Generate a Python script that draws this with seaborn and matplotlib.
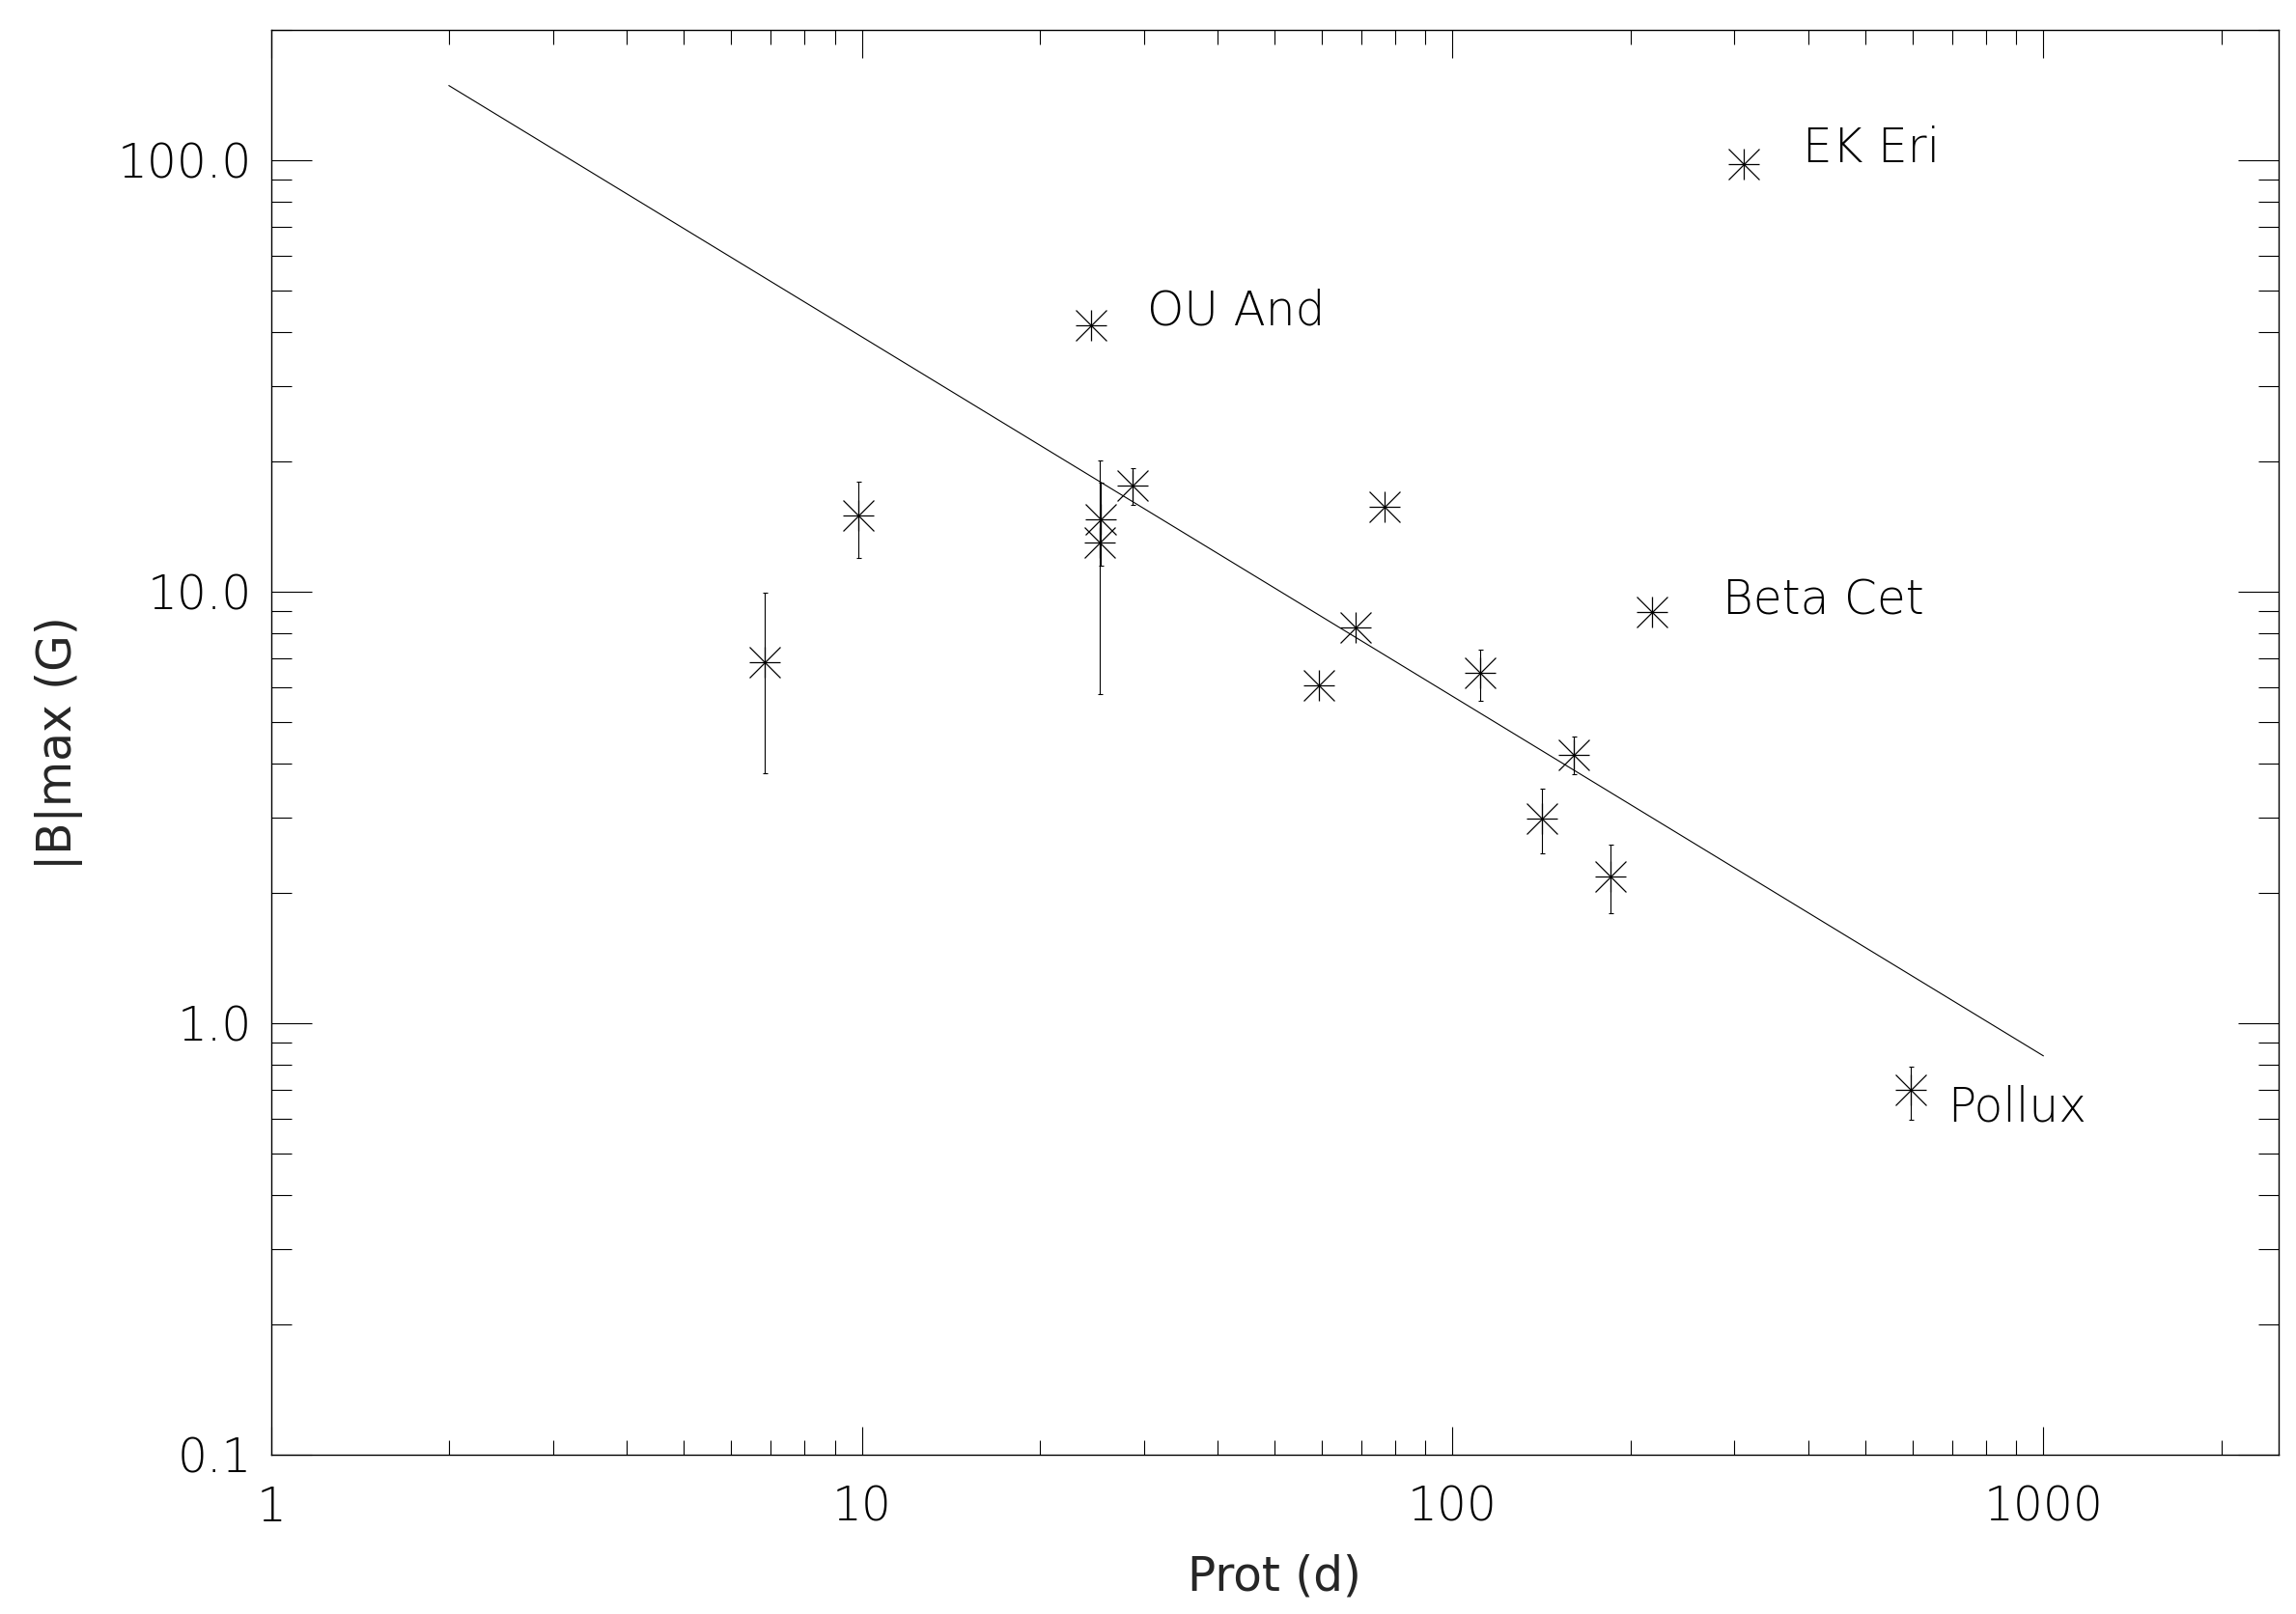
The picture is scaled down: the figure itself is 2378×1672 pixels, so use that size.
import numpy as np
import matplotlib
matplotlib.use("Agg")
import matplotlib.pyplot as plt
import seaborn as sns
from matplotlib.ticker import FixedLocator, FixedFormatter, LogLocator, NullFormatter

# rotation period (d) and max longitudinal field |B|max (G)
prot = [6.85, 9.87, 24.4, 25.42, 25.28, 28.74, 59.5, 68.6, 76.7,
        111.2, 141.4, 160.6, 184.8, 217.2, 311.0, 597.0]
bmax = [6.88, 15.0, 41.4, 14.69, 12.98, 17.6, 6.07, 8.27, 15.7,
        6.48, 2.98, 4.18, 2.19, 8.97, 98.0, 0.699]
# error bar ends (nan = no error bar drawn)
b_lo = [3.79, 11.95, np.nan, 11.49, 5.78, 15.88, np.nan, np.nan, np.nan,
        5.59, 2.48, 3.78, 1.795, np.nan, np.nan, 0.596]
b_hi = [9.97, 18.0, np.nan, 17.9, 20.12, 19.34, np.nan, np.nan, np.nan,
        7.35, 3.49, 4.61, 2.59, np.nan, np.nan, 0.793]

# power-law fit line end points
fit_p = [2.0, 1000.0]
fit_b = [149.0, 0.84]

# named stars
star_names = ["OU And", "EK Eri", "Beta Cet", "Pollux"]
name_x = [30.4, 391.5, 285.8, 689.0]
name_y = [41.5, 98.8, 8.84, 0.592]

xticks = [1, 10, 100, 1000]
xtick_labels = ["1", "10", "100", "1000"]
yticks = [0.1, 1.0, 10.0, 100.0]
ytick_labels = ["0.1", "1.0", "10.0", "100.0"]

sns.set_style("white")
plt.rcParams["font.family"] = ["DejaVu Sans"]
plt.rcParams["font.weight"] = 200
FS = 35

fig = plt.figure(figsize=(23.78, 16.72), dpi=100)
ax = fig.add_axes([0.118, 0.0987, 0.8744, 0.8825])
ax.set_xscale("log")
ax.set_yscale("log")

# fit line
sns.lineplot(x=fit_p, y=fit_b, color="k", linewidth=0.8, ax=ax)

# error bars
p = np.array(prot)
b = np.array(bmax)
lo = np.array(b_lo)
hi = np.array(b_hi)
has = ~np.isnan(lo)
ax.errorbar(p[has], b[has], yerr=[b[has] - lo[has], hi[has] - b[has]],
            fmt="none", ecolor="k", elinewidth=0.8, capsize=1.8, capthick=0.8)

# IDL-style asterisks: '+' over 'x'
sns.scatterplot(x=prot, y=bmax, marker="+", s=23 ** 2, color="k",
                linewidth=0.9, ax=ax, legend=False)
sns.scatterplot(x=prot, y=bmax, marker="x", s=23 ** 2, color="k",
                linewidth=0.9, ax=ax, legend=False)

for name, tx, ty in zip(star_names, name_x, name_y):
    ax.text(tx, ty, name, fontsize=FS, ha="left", va="baseline", color="k")

ax.set_xlim(1, 2500)
ax.set_ylim(0.1, 200)

ax.xaxis.set_major_locator(FixedLocator(xticks))
ax.xaxis.set_major_formatter(FixedFormatter(xtick_labels))
ax.xaxis.set_minor_locator(LogLocator(base=10, subs=range(2, 10), numticks=50))
ax.xaxis.set_minor_formatter(NullFormatter())
ax.yaxis.set_major_locator(FixedLocator(yticks))
ax.yaxis.set_major_formatter(FixedFormatter(ytick_labels))
ax.yaxis.set_minor_locator(LogLocator(base=10, subs=range(2, 10), numticks=50))
ax.yaxis.set_minor_formatter(NullFormatter())

ax.tick_params(axis="both", which="both", direction="in",
               top=True, right=True, bottom=True, left=True,
               width=0.8, color="k", labelsize=FS, labelcolor="k")
ax.tick_params(axis="x", which="major", length=21, pad=22)
ax.tick_params(axis="x", which="minor", length=10.5)
ax.tick_params(axis="y", which="major", length=30, pad=14)
ax.tick_params(axis="y", which="minor", length=15)

for s in ax.spines.values():
    s.set_linewidth(1.0)
    s.set_color("k")

ax.set_xlabel("Prot (d)", fontsize=FS)
ax.set_ylabel("|B|max (G)", fontsize=FS)
ax.xaxis.set_label_coords(0.5, -0.0698)
ax.yaxis.set_label_coords(-0.0938, 0.5)

fig.savefig("out.png", dpi=100)
